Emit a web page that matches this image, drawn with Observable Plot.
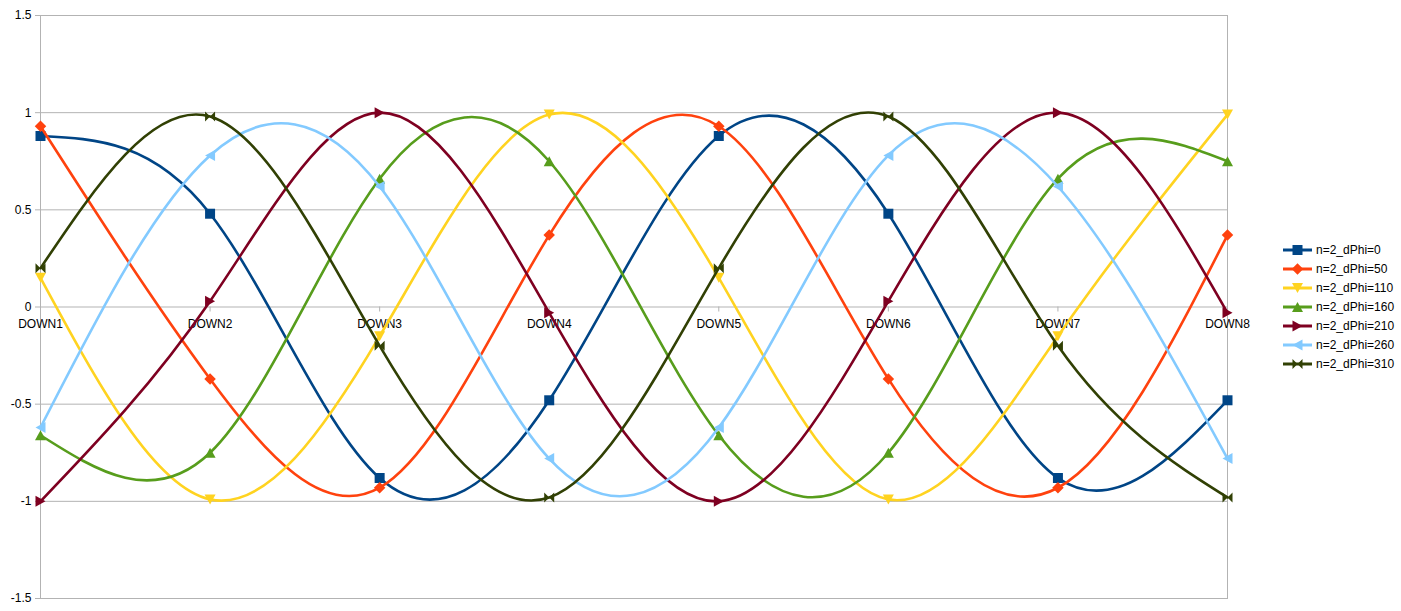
<!DOCTYPE html>
<html>
<head>
<meta charset="utf-8">
<script src="https://cdn.jsdelivr.net/npm/d3@7"></script>
<script src="https://cdn.jsdelivr.net/npm/@observablehq/plot@0.6"></script>
<style>
  html, body { margin: 0; padding: 0; background: #fff; }
  #wrap { position: relative; width: 1401px; height: 611px; font-family: "Liberation Sans", Arial, sans-serif; }
  #legend { position: absolute; left: 1283px; top: 240px; font-size: 12px; color: #000; }
  .row { height: 19.05px; display: flex; align-items: center; white-space: nowrap; }
  .row svg { margin-right: 4px; }
</style>
</head>
<body>
<div id="wrap"><div id="legend"></div></div>
<script>
const categories = ["DOWN1", "DOWN2", "DOWN3", "DOWN4", "DOWN5", "DOWN6", "DOWN7", "DOWN8"];
const seriesNames = ["n=2_dPhi=0", "n=2_dPhi=50", "n=2_dPhi=110", "n=2_dPhi=160", "n=2_dPhi=210", "n=2_dPhi=260", "n=2_dPhi=310"];
const dPhi0   = [0.88, 0.48, -0.88, -0.48, 0.88, 0.48, -0.88, -0.48];
const dPhi50  = [0.93, -0.37, -0.93, 0.37, 0.93, -0.37, -0.93, 0.37];
const dPhi110 = [0.15, -0.99, -0.15, 0.99, 0.15, -0.99, -0.15, 0.99];
const dPhi160 = [-0.66, -0.75, 0.66, 0.75, -0.66, -0.75, 0.66, 0.75];
const dPhi210 = [-1.0, 0.03, 1.0, -0.03, -1.0, 0.03, 1.0, -0.03];
const dPhi260 = [-0.62, 0.78, 0.62, -0.78, -0.62, 0.78, 0.62, -0.78];
const dPhi310 = [0.2, 0.98, -0.2, -0.98, 0.2, 0.98, -0.2, -0.98];
const yTicks = [-1.5, -1, -0.5, 0, 0.5, 1, 1.5];
const colors = ["#004586", "#ff420e", "#ffd320", "#579d1c", "#7e0021", "#83caff", "#314004"];

const seriesValues = [dPhi0, dPhi50, dPhi110, dPhi160, dPhi210, dPhi260, dPhi310];

function poly(pts) {
  return {
    draw(ctx, size) {
      const h = Math.sqrt(size / Math.PI);
      ctx.moveTo(pts[0][0] * h, pts[0][1] * h);
      for (let i = 1; i < pts.length; i++) ctx.lineTo(pts[i][0] * h, pts[i][1] * h);
      ctx.closePath();
    }
  };
}
const symbols = [
  poly([[-1, -1], [1, -1], [1, 1], [-1, 1]]),          // square
  poly([[0, -1.15], [1.15, 0], [0, 1.15], [-1.15, 0]]), // diamond
  poly([[-1.1, -1], [1.1, -1], [0, 1]]),               // down triangle
  poly([[-1.1, 1], [1.1, 1], [0, -1]]),                // up triangle
  poly([[-1, -1.1], [1, 0], [-1, 1.1]]),               // right triangle
  poly([[1, -1.1], [-1, 0], [1, 1.1]]),                // left triangle
  poly([[-1, -1], [1, 1], [1, -1], [-1, 1]])           // bowtie
];

const rows = [];
seriesNames.forEach((s, si) => {
  categories.forEach((c, ci) => rows.push({ series: s, si, cat: c, value: seriesValues[si][ci] }));
});

const marks = [
  Plot.gridY(yTicks, { stroke: "#b3b3b3", strokeOpacity: 1 }),
  Plot.frame({ stroke: "#b3b3b3" }),
  Plot.axisY(yTicks, { tickFormat: d => String(d), tickSize: 5, tickPadding: 4, stroke: "#b3b3b3", fill: "#000", fontSize: 12, label: null }),
  Plot.ruleX(categories, { x: d => d, y1: 0, y2: 0, insetBottom: -5, stroke: "#b3b3b3" }),
  Plot.text(categories, { x: d => d, y: 0, text: d => d, dy: 17, fill: "#000", fontSize: 12 })
];
seriesNames.forEach((s, si) => {
  const d = rows.filter(r => r.si === si);
  marks.push(Plot.line(d, { x: "cat", y: "value", stroke: colors[si], strokeWidth: 2.6, curve: "natural" }));
  marks.push(Plot.dot(d, { x: "cat", y: "value", fill: colors[si], symbol: symbols[si], r: 5 }));
});

const chart = Plot.plot({
  width: 1401,
  height: 611,
  marginLeft: 40,
  marginRight: 174,
  marginTop: 15,
  marginBottom: 13,
  style: { fontFamily: "'Liberation Sans', Arial, sans-serif", fontSize: "12px", background: "#fff" },
  x: { type: "point", domain: categories, padding: 0, round: false, axis: null },
  y: { domain: [-1.5, 1.5], axis: null, label: null },
  marks
});
const wrap = document.getElementById("wrap");
wrap.insertBefore(chart, wrap.firstChild);

const legend = document.getElementById("legend");
seriesNames.forEach((s, si) => {
  const row = document.createElement("div");
  row.className = "row";
  const symPath = d3.symbol(symbols[si], 25 * Math.PI)();
  row.innerHTML = `<svg width="29" height="14" viewBox="0 0 29 14"><line x1="0" y1="7" x2="29" y2="7" stroke="${colors[si]}" stroke-width="3"/><path transform="translate(14.5,7)" d="${symPath}" fill="${colors[si]}"/></svg><span>${s}</span>`;
  legend.appendChild(row);
});
</script>
</body>
</html>
